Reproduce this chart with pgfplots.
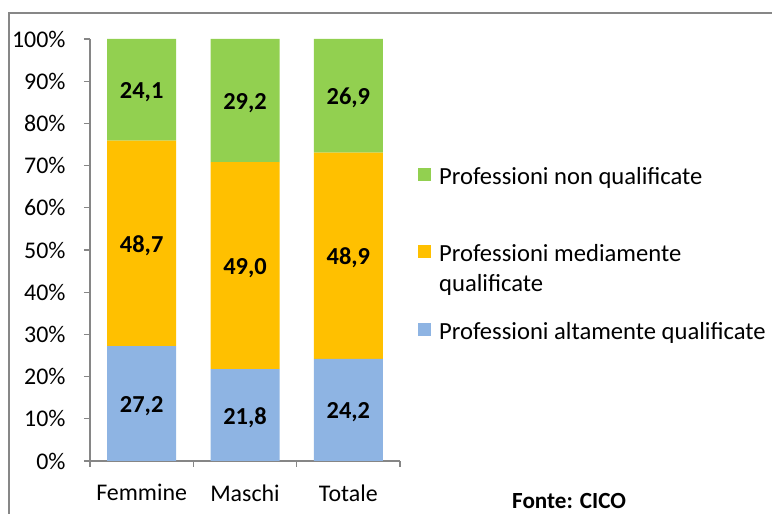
\documentclass[border=0pt]{standalone}
\usepackage{fontspec}
\setmainfont{Carlito}
\usepackage{pgfplots}
\pgfplotsset{compat=1.18}
\usepackage{pgfplotstable}
\definecolor{cgreen}{HTML}{92D050}
\definecolor{corange}{HTML}{FFC000}
\definecolor{cblue}{HTML}{8EB4E3}
\definecolor{axgray}{HTML}{868686}
\definecolor{framegray}{HTML}{878787}

\pgfplotstableread{
x v
0 27.2
1 21.8
2 24.2
}\alta
\pgfplotstableread{
x v
0 48.7
1 49.0
2 48.9
}\media
\pgfplotstableread{
x v
0 24.1
1 29.2
2 26.9
}\non

\pgfplotsset{
  sqlegend/.style={legend image code/.code={\fill[##1,/tikz/.cd] (0bp,10.5bp) rectangle (13bp,23.5bp); \path (19bp,0bp);}},
}

\begin{document}
\begin{tikzpicture}
\begin{axis}[
  at={(90bp,53bp)}, anchor=south west,
  scale only axis, width=310bp, height=422bp,
  ybar stacked, bar width=69bp,
  xmin=-0.5, xmax=2.5, ymin=0, ymax=100,
  axis lines*=left,
  axis line style={draw=axgray, line width=1.2bp},
  every tick/.style={draw=axgray, line width=1.2bp},
  tick align=outside,
  major tick length=6bp,
  xtick={-0.5,0.5,1.5,2.5}, xticklabels={},
  extra x ticks={0,1,2}, extra x tick labels={Femmine,Maschi,Totale},
  extra x tick style={tick style={draw=none}},
  xticklabel style={yshift=-14bp},
  ytick={0,10,...,100},
  yticklabel={\pgfmathprintnumber[assume math mode=true]{\tick}\%},
  ticklabel style={font=\fontsize{24}{29}\selectfont, black},
  yticklabel style={xshift=-15bp},
  point meta=explicit,
  nodes near coords={\pgfmathprintnumber[fixed,fixed zerofill,precision=1,use comma,assume math mode=true]{\pgfplotspointmeta}},
  nodes near coords style={anchor=center},
  every node near coord/.append style={anchor=center, font=\bfseries\fontsize{24.5}{29}\selectfont, black, yshift=-2.5bp},
  legend style={at={(axis description cs:1.058,0.7014)}, anchor=north west, draw=none, fill=none,
     font=\fontsize{24.7}{30}\selectfont, cells={align=left}, row sep=25bp, inner sep=0pt},
  legend cell align=left,
  reverse legend,
]
\addplot[fill=cblue, draw=none, sqlegend] table[x=x, y=v, meta=v] {\alta};
\addplot[fill=corange, draw=none, sqlegend] table[x=x, y=v, meta=v] {\media};
\addplot[fill=cgreen, draw=none, sqlegend] table[x=x, y=v, meta=v] {\non};
\legend{{Professioni altamente qualificate\\\strut}, {Professioni mediamente\\qualificate\strut}, {Professioni non qualificate\\\strut}}
\end{axis}
\draw[framegray, line width=2bp] (9bp,0) -- (9bp,501bp) -- (772bp,501bp);
\node[font=\bfseries\fontsize{23.2}{28}\selectfont, anchor=base west, inner sep=0pt] at (512bp,6bp) {Fonte: CICO};
\pgfresetboundingbox
\useasboundingbox (0,0) rectangle (772bp,514bp);
\end{tikzpicture}
\end{document}
